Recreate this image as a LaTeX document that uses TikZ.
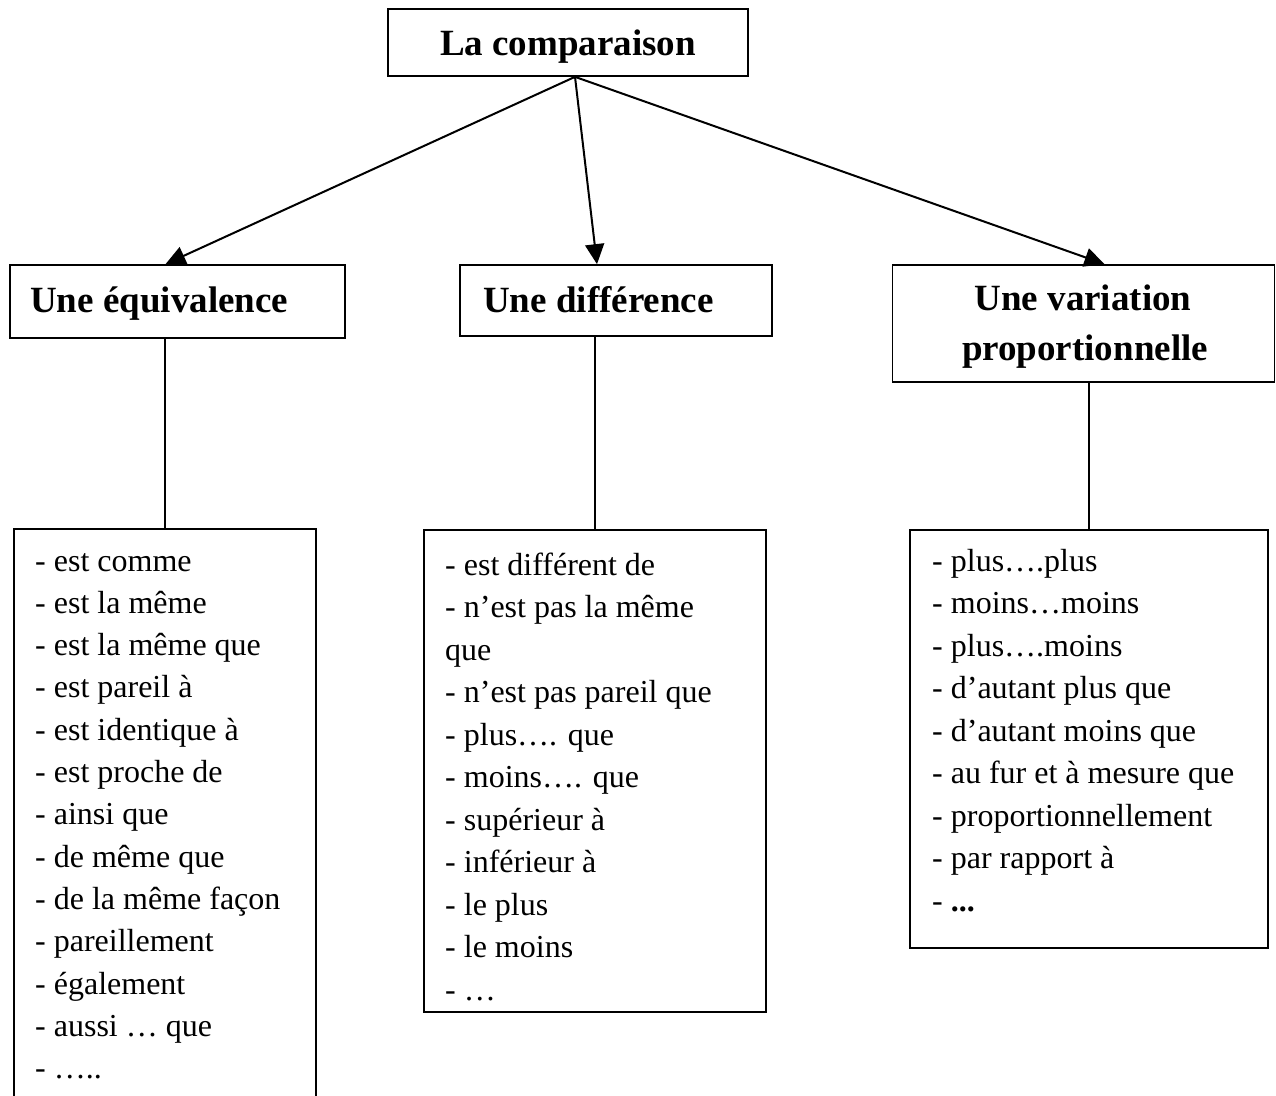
\documentclass[tikz,border=0pt]{standalone}
\usepackage{fontspec}
\setmainfont{Liberation Serif}
\usetikzlibrary{arrows.meta}
\tikzset{
  box/.style={draw, line width=1.7pt, rectangle, inner sep=0pt},
  ttl/.style={font=\fontsize{37}{50}\selectfont\bfseries, inner sep=0pt},
  item/.style={font=\fontsize{32}{42}\selectfont, inner sep=0pt, anchor=base west},
  arr/.style={line width=2pt, -{Triangle[length=20pt,width=19pt]}},
  lnk/.style={line width=1.5pt}
}
\begin{document}
\begin{tikzpicture}[x=1pt,y=-1pt]
\clip (0,0) rectangle (1276,1095);
\fill[white] (0,0) rectangle (1276,1095);
% title boxes
\node[box, minimum width=360pt, minimum height=67pt] (top) at (568,42.5) {};
\node[ttl, anchor=base] (toptxt) at (568,55) {La comparaison};
\node[box, minimum width=335pt, minimum height=73pt] (eq) at (177.5,301.5) {};
\node[ttl, anchor=base west] (eqtxt) at (30,312) {Une équivalence};
\node[box, minimum width=312pt, minimum height=71pt] (diff) at (616,300.5) {};
\node[ttl, anchor=base west] (difftxt) at (483,312) {Une différence};
\node[box, minimum width=382pt, minimum height=117pt] (var) at (1083.5,323.5) {};
\node[ttl, anchor=base] (vartxt1) at (1083,310) {Une variation};
\node[ttl, anchor=base] (vartxt2) at (1085,360) {proportionnelle};
% arrows
\draw[arr] ([xshift=7pt]top.south) -- ([xshift=-12pt]eq.north);
\draw[arr] ([xshift=7pt]top.south) -- ([xshift=-19pt]diff.north);
\draw[arr] ([xshift=7pt]top.south) -- ([xshift=21pt]var.north);
% list boxes
\node[box, minimum width=302pt, minimum height=581pt] (L1) at (165,819.5) {};
\node[box, minimum width=342pt, minimum height=482pt] (L2) at (595,771) {};
\node[box, minimum width=358pt, minimum height=418pt] (L3) at (1089,739) {};
\draw[lnk] (L1.north |- eq.south) -- (L1.north);
\draw[lnk] (L2.north |- diff.south) -- (L2.north);
\draw[lnk] (L3.north |- var.south) -- (L3.north);
% list texts
\foreach \s [count=\i] in {- est comme, - est la même, - est la même que, - est pareil à, - est identique à, - est proche de, - ainsi que, - de même que, - de la même façon, - pareillement, - également, - aussi … que, - …..}
  \node[item] (l\i) at (35,{571+42.3*(\i-1)}) {\s};
\foreach \s [count=\i] in {- est différent de, - n’est pas la même, que, - n’est pas pareil que, - plus…. que, - moins…. que, - supérieur à, - inférieur à, - le plus, - le moins, - …}
  \node[item] (m\i) at (445,{575+42.5*(\i-1)}) {\s};
\foreach \s [count=\i] in {- plus….plus, - moins…moins, - plus….moins, - d’autant plus que, - d’autant moins que, - au fur et à mesure que, - proportionnellement, - par rapport à, - \textbf{...}}
  \node[item] (r\i) at (932,{571+42.5*(\i-1)}) {\s};
\end{tikzpicture}
\end{document}
